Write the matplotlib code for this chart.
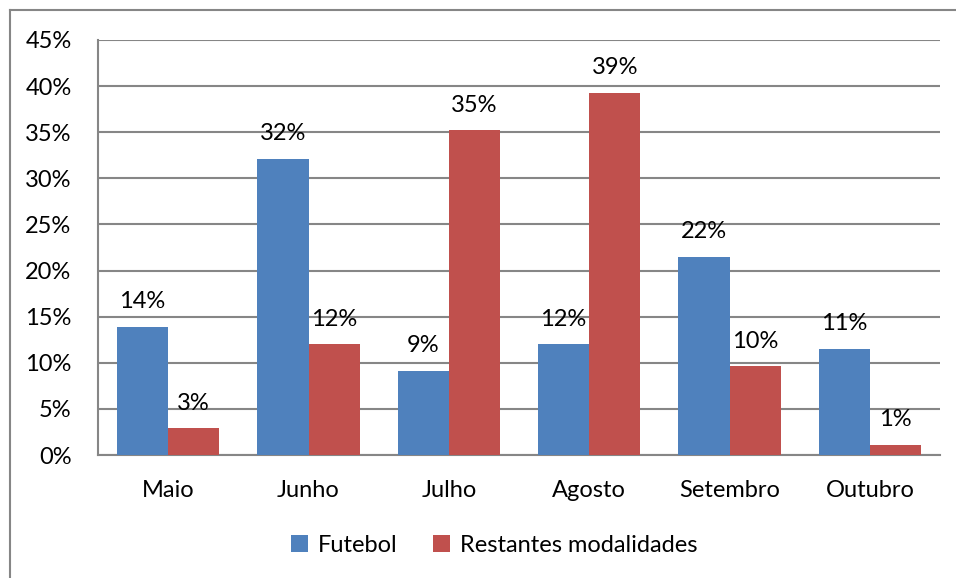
import numpy as np
import matplotlib
matplotlib.use("Agg")
import matplotlib.pyplot as plt
from matplotlib.lines import Line2D

plt.rcParams['font.family'] = ['Lato', 'DejaVu Sans']

meses = ['Maio', 'Junho', 'Julho', 'Agosto', 'Setembro', 'Outubro']
futebol = [13.9, 32.1, 9.1, 12.0, 21.5, 11.5]
restantes = [2.9, 12.0, 35.2, 39.3, 9.6, 1.1]
lbl_futebol = ['14%', '32%', '9%', '12%', '22%', '11%']
lbl_restantes = ['3%', '12%', '35%', '39%', '10%', '1%']

azul = '#4F81BD'
vermelho = '#C0504D'
cinza = '#868686'
fs = 17

fig = plt.figure(figsize=(9.56, 5.78), dpi=100)
ax = fig.add_axes([98/956, 1 - 455/578, (940-98)/956, (455-40)/578])

x = np.arange(len(meses))
w = 0.364
b1 = ax.bar(x - w/2, futebol, w, color=azul, label='Futebol', zorder=3)
b2 = ax.bar(x + w/2, restantes, w, color=vermelho, label='Restantes modalidades', zorder=3)

for bars, lbls in ((b1, lbl_futebol), (b2, lbl_restantes)):
    for r, t in zip(bars, lbls):
        ax.text(r.get_x() + r.get_width()/2, r.get_height() + 1.6, t,
                ha='center', va='bottom', fontsize=fs)

ax.set_xlim(-0.5, len(meses) - 0.5)
ax.set_ylim(0, 45)
ax.set_yticks(np.arange(0, 46, 5))
ax.set_yticklabels([f'{v}%' for v in range(0, 46, 5)])
ax.set_xticks(x)
ax.set_xticklabels(meses)
ax.tick_params(axis='both', length=0, labelsize=fs)
ax.tick_params(axis='y', pad=19)
ax.tick_params(axis='x', pad=18)
ax.yaxis.grid(True, color=cinza, linewidth=1.5, zorder=0)
ax.set_axisbelow(True)
for s in ['top', 'right']:
    ax.spines[s].set_visible(False)
for s in ['left', 'bottom']:
    ax.spines[s].set_color(cinza)
    ax.spines[s].set_linewidth(1.5)

fig.legend(handles=[b1, b2], loc='center', bbox_to_anchor=(494/956, 1 - 545/578),
           ncol=2, frameon=False, fontsize=fs, handlelength=0.75, handleheight=0.75,
           handletextpad=0.4, columnspacing=1.5)

# moldura do gráfico (só visível à esquerda e em cima)
fig.add_artist(Line2D([9.5/956, 9.5/956], [0, 1 - 9.5/578], color=cinza, linewidth=1.5))
fig.add_artist(Line2D([9.5/956, 1], [1 - 9.5/578, 1 - 9.5/578], color=cinza, linewidth=1.5))

fig.savefig('out.png', dpi=100)
